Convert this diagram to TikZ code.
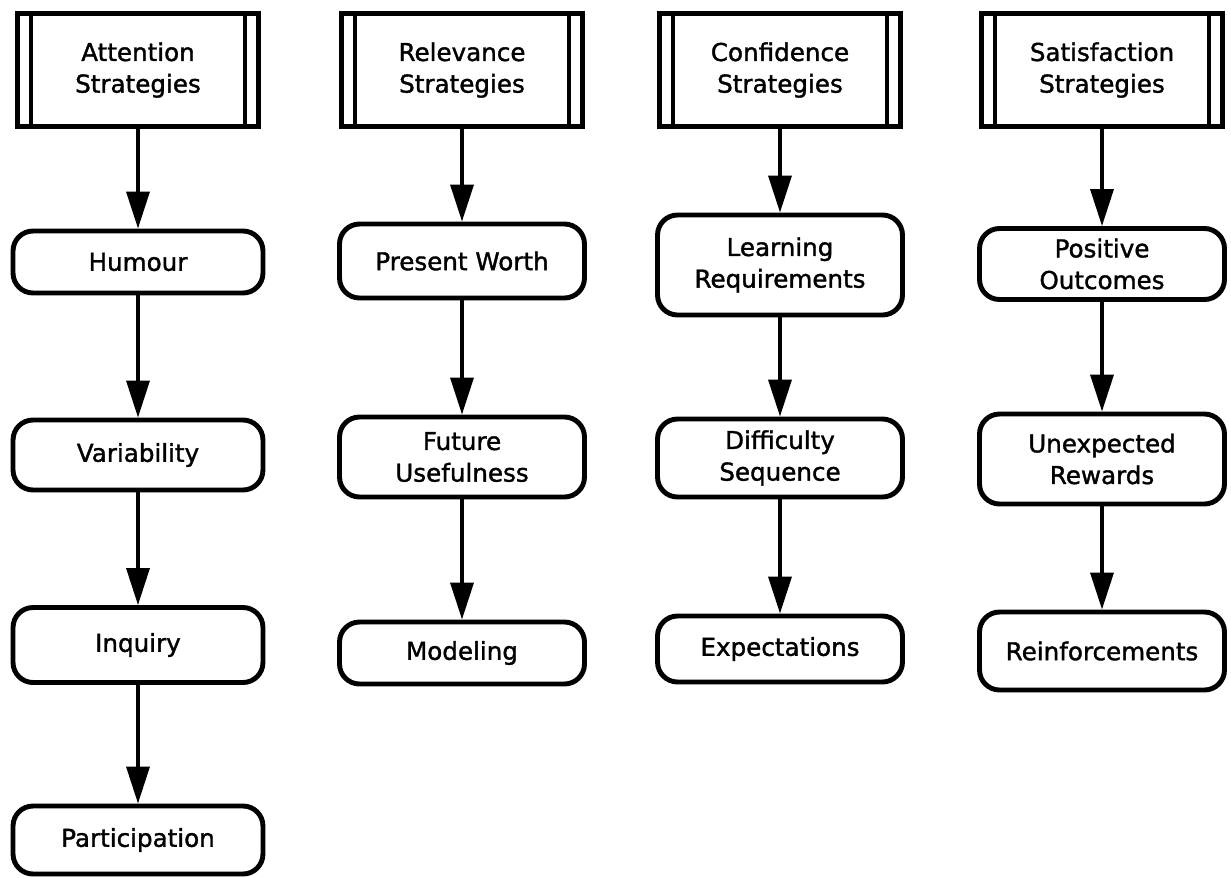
\documentclass[tikz,border=0pt]{standalone}
\usepackage{fontspec}
\setmainfont{DejaVu Sans}[BoldFont=DejaVu Sans, BoldFeatures={FakeBold=1.4}]
\usetikzlibrary{arrows.meta}

\tikzset{
  strat/.style={draw, line width=3.2pt, minimum width=4.82cm, minimum height=2.26cm, align=center,
    path picture={
      \draw[line width=1.8pt] ([xshift=0.27cm]path picture bounding box.north west) -- ([xshift=0.27cm]path picture bounding box.south west);
      \draw[line width=1.8pt] ([xshift=-0.27cm]path picture bounding box.north east) -- ([xshift=-0.27cm]path picture bounding box.south east);
    }},
  item/.style={draw, line width=2.8pt, rounded corners=0.4cm, minimum width=4.9cm, minimum height=1.32cm, align=center},
  flow/.style={line width=2pt, -{Triangle[length=0.74cm,width=0.46cm]}}
}

\begin{document}
\begin{tikzpicture}[x=0.02cm, y=-0.02cm, font=\fontsize{14}{18}\selectfont\bfseries]

  \useasboundingbox (0,0) rectangle (1231,877);

  % attention
  \node[strat] (att) at (138,70) {Attention\\Strategies};
  \node[item, minimum width=5cm, minimum height=1.24cm] (hum) at (138,262) {Humour};
  \node[item, minimum width=5cm, minimum height=1.4cm] (var) at (138,455) {Variability};
  \node[item, minimum width=5cm, minimum height=1.5cm] (inq) at (138,645) {Inquiry};
  \node[item, minimum width=5cm, minimum height=1.36cm] (par) at (138,840) {Participation};

  % relevance
  \node[strat] (rel) at (462,70) {Relevance\\Strategies};
  \node[item, minimum height=1.48cm] (pw) at (462,261) {Present Worth};
  \node[item, minimum height=1.6cm] (fu) at (462,457) {Future\\Usefulness};
  \node[item, minimum height=1.24cm] (mod) at (462,653) {Modeling};

  % confidence
  \node[strat] (con) at (780,70) {Confidence\\Strategies};
  \node[item, minimum height=2cm] (lr) at (780,265) {Learning\\Requirements};
  \node[item, minimum height=1.56cm] (ds) at (780,458) {Difficulty\\Sequence};
  \node[item] (exp) at (780,649) {Expectations};

  % satisfaction
  \node[strat] (sat) at (1102,70) {Satisfaction\\Strategies};
  \node[item, minimum height=1.42cm] (po) at (1102,264) {Positive\\Outcomes};
  \node[item, minimum height=1.8cm] (ur) at (1102,459) {Unexpected\\Rewards};
  \node[item, minimum height=1.56cm] (rei) at (1102,651) {Reinforcements};

  \foreach \a/\b in {att/hum, hum/var, var/inq, inq/par,
                     rel/pw, pw/fu, fu/mod,
                     con/lr, lr/ds, ds/exp,
                     sat/po, po/ur, ur/rei}{
    \draw[flow] (\a) -- (\b);
  }

\end{tikzpicture}
\end{document}
